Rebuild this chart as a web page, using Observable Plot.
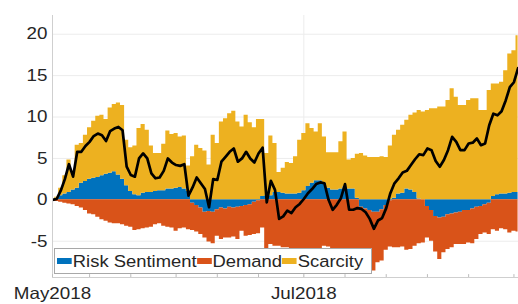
<!DOCTYPE html>
<html><head><meta charset="utf-8">
<script src="https://cdn.jsdelivr.net/npm/d3@7"></script>
<script src="https://cdn.jsdelivr.net/npm/@observablehq/plot@0.6"></script>
<style>
html,body{margin:0;padding:0;background:#fff;}
#chart{position:relative;width:518px;height:304px;overflow:hidden;}
#legend{position:absolute;left:54px;top:248px;width:318px;height:26px;background:#fff;border:1px solid #a8a8a8;box-sizing:border-box;}
#legend .inner{position:absolute;left:2px;top:0;height:100%;display:flex;align-items:center;transform:scaleX(1.13);transform-origin:0 50%;font-family:"Liberation Sans",Arial,sans-serif;font-size:16.3px;color:#262626;white-space:nowrap;}
#legend .sw{display:inline-block;width:13px;height:6px;margin-right:1px;}
</style></head><body><div id="chart"></div>
<script>
// ---- data (daily, starting 2018-05-01) ----
const startDate = "2018-05-01";
const seriesNames = ["Risk Sentiment", "Demand", "Scarcity"];
const seriesColors = ["#0072BD", "#D95319", "#EDB120"];

const riskSentiment = [
  0, 0.2, 0.5, 0.7, 0.9, 1.2, 1.4, 2.0, 2.2, 2.5,
  2.6, 2.7, 2.9, 3.1, 3.2, 3.4, 3.0, 2.5, 1.7, 1.0,
  0.6, 0.5, 0.8, 0.9, 0.9, 1.0, 1.1, 1.1, 1.3, 1.3,
  1.4, 1.5, 1.3, 1.0, -0.4, -0.7, -1.0, -1.5, -1.4, -1.5,
  -1.2, -1.0, -1.1, -0.9, -1.0, -0.9, -0.8, -0.7, -0.6, -0.3,
  -0.1, 0.4, 0.5, 0.5, 0.9, 0.9, 0.8, 0.7, 0.7, 0.7,
  0.8, 1.1, 1.6, 2.0, 2.3, 2.3, 2.0, 1.4, 1.2, 1.2,
  1.3, 1.6, 1.3, 1.3, 0.2, -0.9, -1.1, -1.3, -1.5, -1.5,
  -1.2, -0.7, -0.1, 0.2, 0.7, 0.8, 1.3, 1.2, 0.9, 0.1,
  0.0, -0.8, -1.3, -2.0, -2.2, -2.1, -1.8, -1.7, -1.6, -1.5,
  -1.3, -1.3, -1.1, -0.9, -0.8, -0.6, -0.4, 0.4, 0.6, 0.7,
  0.7, 0.8, 0.9, 0.9
];
const demand = [
  0, -0.2, -0.3, -0.4, -0.5, -0.6, -0.8, -1.0, -1.3, -1.7,
  -1.8, -2.1, -2.4, -2.6, -2.8, -2.9, -2.9, -3.0, -3.2, -3.3,
  -3.7, -3.6, -3.5, -3.4, -3.3, -3.0, -2.9, -3.2, -3.3, -3.4,
  -3.8, -3.5, -3.4, -3.6, -3.3, -3.2, -3.2, -3.1, -3.7, -3.8,
  -3.2, -3.8, -3.5, -3.7, -3.5, -3.9, -3.0, -3.7, -3.7, -3.9,
  -4.0, -3.4, -5.9, -5.4, -5.6, -5.6, -5.8, -5.8, -6.0, -6.1,
  -7.7, -7.9, -8.4, -7.3, -6.3, -7.1, -5.6, -5.7, -6.9, -6.3,
  -6.8, -6.3, -6.0, -6.2, -6.5, -5.8, -5.7, -6.1, -7.1, -6.1,
  -6.2, -5.4, -5.6, -5.8, -5.8, -5.7, -6.1, -6.0, -5.6, -5.3,
  -5.2, -3.8, -3.7, -4.3, -5.0, -4.3, -4.2, -4.1, -3.8, -3.9,
  -4.1, -3.9, -4.2, -3.9, -3.4, -3.4, -3.8, -3.6, -3.8, -3.5,
  -3.6, -4.0, -3.8, -3.9
];
const scarcity = [
  0, 0.1, 0.9, 2.2, 3.9, 2.2, 5.2, 4.8, 5.6, 6.2,
  6.9, 7.4, 7.3, 6.6, 7.9, 8.1, 8.7, 8.9, 5.5, 5.3,
  5.9, 8.1, 8.3, 7.5, 5.6, 4.6, 4.5, 5.6, 7.0, 6.6,
  6.6, 6.1, 6.4, 3.1, 5.2, 6.6, 6.2, 5.9, 4.2, 7.8,
  6.8, 9.4, 9.8, 10.4, 10.7, 9.4, 8.8, 10.2, 9.3, 8.7,
  9.7, 9.3, 5.1, 7.2, 5.9, 2.4, 3.0, 3.8, 3.7, 4.5,
  6.4, 6.9, 7.6, 6.6, 5.9, 6.9, 5.6, 4.3, 4.5, 4.5,
  5.7, 6.6, 3.5, 3.7, 5.3, 5.6, 5.3, 5.1, 5.1, 5.1,
  5.2, 5.1, 6.5, 7.6, 7.7, 8.2, 8.3, 9.0, 9.6, 10.7,
  10.6, 10.8, 11.0, 11.0, 11.2, 11.2, 12.0, 13.4, 12.4, 11.4,
  11.4, 12.0, 12.2, 12.2, 10.8, 10.8, 13.2, 13.6, 13.4, 13.5,
  14.9, 16.8, 17.1, 18.9
];
const total = [
  0, 0.1, 1.1, 2.5, 4.3, 2.8, 5.8, 5.8, 6.5, 7.0,
  7.7, 8.0, 7.8, 7.1, 8.3, 8.6, 8.8, 8.4, 4.0, 3.0,
  2.8, 5.0, 5.6, 5.0, 3.2, 2.6, 2.7, 3.5, 5.0, 4.5,
  4.2, 4.1, 4.3, 0.5, 1.5, 2.7, 2.0, 1.3, -0.9, 2.5,
  2.4, 4.6, 5.2, 5.8, 6.2, 4.6, 5.0, 5.8, 5.0, 4.5,
  5.6, 6.3, -0.3, 2.3, 1.2, -2.3, -2.0, -1.3, -1.6, -0.9,
  -0.5, 0.1, 0.8, 1.3, 1.9, 2.1, 2.0, 0.0, -1.2, -0.6,
  0.2, 1.9, -1.2, -1.2, -1.0, -1.1, -1.5, -2.3, -3.5, -2.5,
  -2.2, -1.0, 0.8, 2.0, 2.6, 3.3, 3.5, 4.2, 4.9, 5.5,
  5.4, 6.2, 6.0, 4.7, 4.0, 4.8, 6.0, 7.6, 7.0, 6.0,
  6.0, 6.8, 6.9, 7.4, 6.6, 6.8, 9.0, 10.4, 10.2, 10.7,
  12.0, 13.6, 14.2, 15.9
];

const yTicks = [-5, 0, 5, 10, 15, 20];
const xMajorTicks = ["2018-05-01", "2018-07-01"];
const xTickLabels = ["May2018", "Jul2018"];
const xMinorTicks = ["2018-05-01", "2018-05-10", "2018-05-20", "2018-05-31", "2018-06-10", "2018-06-20",
  "2018-07-01", "2018-07-11", "2018-07-21", "2018-07-31", "2018-08-10", "2018-08-21"];
const xDomain = ["2018-05-01T00:00Z", "2018-08-22T02:30Z"];
const yDomain = [-9.38, 22.26];

// ---- build tables ----
const parse = d3.utcParse("%Y-%m-%d");
const start = parse(startDate);
const dates = riskSentiment.map((_, i) => d3.utcDay.offset(start, i));
const seriesValues = [riskSentiment, demand, scarcity];
// long table: for each day, the three series in stacking order
const bars = [];
dates.forEach((d, i) => {
  seriesNames.forEach((name, k) => bars.push({date: d, value: seriesValues[k][i], series: name}));
});
const lineData = dates.map((d, i) => ({date: d, value: total[i]}));
const majorDates = xMajorTicks.map(parse);
const minorDates = xMinorTicks.map(parse);
const xDom = xDomain.map(s => new Date(s));

const plot = Plot.plot({
  width: 518, height: 304,
  marginLeft: 52, marginRight: 0, marginTop: 15, marginBottom: 27,
  style: {fontFamily: '"Liberation Sans", Arial, sans-serif', fontSize: "16.5px", color: "#262626", background: "#fff"},
  x: {type: "utc", domain: xDom, label: null},
  y: {domain: yDomain, label: null},
  color: {domain: seriesNames, range: seriesColors},
  marks: [
    Plot.gridY(yTicks, {stroke: "#ececec", strokeOpacity: 1}),
    Plot.gridX([majorDates[1]], {stroke: "#ececec", strokeOpacity: 1}),
    // daily stacked bars drawn as stepped (mid-point) stacked areas: no seams between days
    Plot.areaY(bars, {x: "date", y: "value", fill: "series", z: "series", curve: "step", clip: true}),
    Plot.line(lineData, {x: "date", y: "value", stroke: "#000", strokeWidth: 2.7, strokeLinejoin: "round", clip: true}),
    Plot.ruleY([yDomain[0]], {stroke: "#cfcfcf"}),
    Plot.ruleX([xDom[0]], {stroke: "#cfcfcf"}),
    Plot.ruleX(minorDates, {y1: yDomain[0], y2: yDomain[0] + 0.35, stroke: "#bdbdbd"}),
    Plot.axisY({ticks: yTicks, tickSize: 0, tickPadding: 5, tickFormat: d => (d < 0 ? "-" + Math.abs(d) : String(d))}),
    Plot.axisX({ticks: majorDates, tickSize: 0, tickPadding: 10,
      tickFormat: d => xTickLabels[majorDates.findIndex(t => +t === +d)]})
  ]
});
const chart = document.getElementById("chart");
chart.appendChild(plot);
plot.querySelectorAll("text").forEach(t => {
  const w = t.getComputedTextLength();
  if (w > 0) { t.setAttribute("textLength", (w * 1.14).toFixed(1)); t.setAttribute("lengthAdjust", "spacingAndGlyphs"); }
});

// legend (inside axes, lower left)
const legend = document.createElement("div");
legend.id = "legend";
const inner = document.createElement("div");
inner.className = "inner";
seriesNames.forEach((name, k) => {
  const sw = document.createElement("span");
  sw.className = "sw"; sw.style.background = seriesColors[k];
  const tx = document.createElement("span");
  tx.textContent = name;
  inner.appendChild(sw); inner.appendChild(tx);
});
legend.appendChild(inner);
chart.appendChild(legend);
</script></body></html>
